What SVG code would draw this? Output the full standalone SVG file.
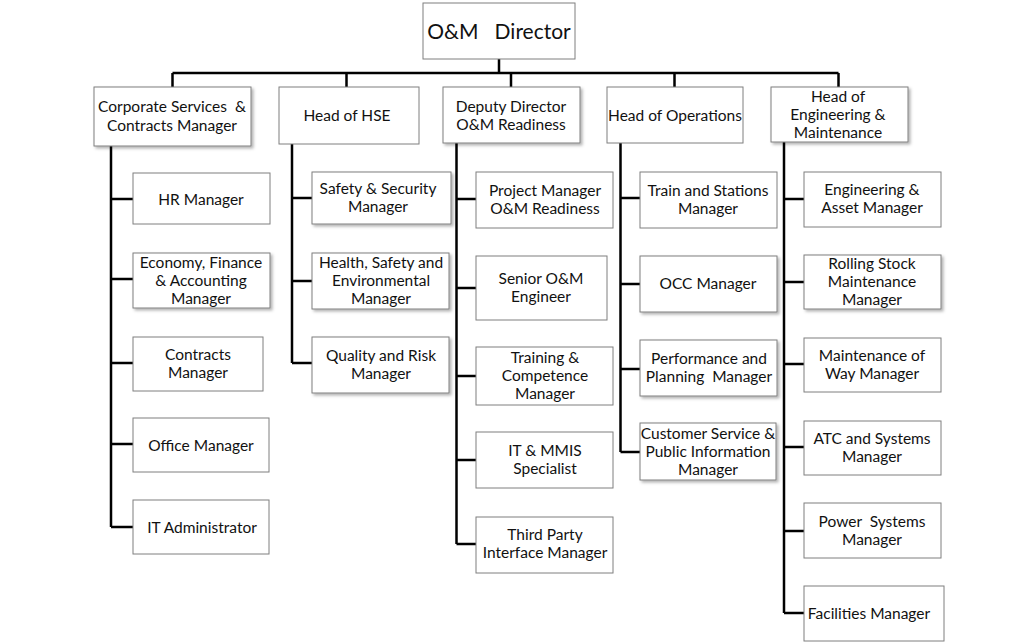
<svg xmlns="http://www.w3.org/2000/svg" width="1035" height="644" viewBox="0 0 1035 644">
<style>
.bx{fill:#fff;stroke:#7f7f7f;stroke-width:1}
.sh{filter:url(#ds)}
text{font-family:Lato,"Liberation Sans",sans-serif;font-size:15.5px;fill:#111;text-anchor:middle;dominant-baseline:central;white-space:pre}
.big{font-size:21px}
.cn{fill:none;stroke:#000;stroke-width:2.5}
</style>
<defs>
<filter id="ds" x="-10%" y="-10%" width="125%" height="130%">
<feDropShadow dx="2" dy="2" stdDeviation="1.5" flood-color="#000" flood-opacity="0.3"/>
</filter>
</defs>
<rect width="1035" height="644" fill="#fff"/>
<g id="connectors">
<path class="cn" d="M172.5,73 H838.5 M499,59 V73 M172.5,73 V87 M346.5,73 V87 M511,73 V87 M674.5,73 V87 M838.5,73 V87"/>
<path class="cn" d="M111,146 V527 M111,199 H133 M111,279 H133 M111,363 H133 M111,444 H133 M111,527 H133"/>
<path class="cn" d="M292,144 V363 M292,198 H312 M292,281 H312 M292,363 H312"/>
<path class="cn" d="M456.5,143 V544 M456.5,199 H476 M456.5,288 H476 M456.5,376 H476 M456.5,460 H476 M456.5,544 H476"/>
<path class="cn" d="M620.5,143 V452 M620.5,198 H640 M620.5,284 H640 M620.5,369 H640 M620.5,452 H640"/>
<path class="cn" d="M784,142 V613 M784,199 H804 M784,282 H804 M784,364 H804 M784,447 H804 M784,531 H804 M784,613 H804"/>
</g>
<g id="director"><rect class="bx" x="423" y="3" width="152" height="56"/><text class="big" x="499" y="30">O&amp;M   Director</text></g>
<g id="corporate"><rect class="bx sh" x="94" y="87" width="157" height="59"/><text x="172" y="106">Corporate Services  &amp;</text><text x="172" y="125">Contracts Manager</text></g>
<g id="hse"><rect class="bx" x="279" y="87" width="140" height="57"/><text x="347" y="115">Head of HSE</text></g>
<g id="deputy"><rect class="bx sh" x="443" y="87" width="137" height="56"/><text x="511" y="106">Deputy Director</text><text x="511" y="124">O&amp;M Readiness</text></g>
<g id="ops"><rect class="bx" x="607" y="87" width="136" height="56"/><text x="675" y="115">Head of Operations</text></g>
<g id="em"><rect class="bx sh" x="771" y="87" width="137" height="55"/><text x="838" y="96">Head of</text><text x="838" y="114">Engineering &amp;</text><text x="838" y="132">Maintenance</text></g>
<g id="hr"><rect class="bx" x="133" y="173" width="137" height="51"/><text x="201" y="199">HR Manager</text></g>
<g id="economy"><rect class="bx sh" x="133" y="253" width="137" height="55"/><text x="201" y="262">Economy, Finance</text><text x="201" y="280">&amp; Accounting</text><text x="201" y="298">Manager</text></g>
<g id="contracts"><rect class="bx" x="133" y="337" width="130" height="54"/><text x="198" y="354">Contracts</text><text x="198" y="372">Manager</text></g>
<g id="office"><rect class="bx" x="133" y="418" width="136" height="54"/><text x="201" y="445">Office Manager</text></g>
<g id="itadmin"><rect class="bx" x="133" y="500" width="136" height="54"/><text x="202" y="527">IT Administrator</text></g>
<g id="safety"><rect class="bx sh" x="312" y="172" width="139" height="52"/><text x="378" y="188">Safety &amp; Security</text><text x="378" y="206">Manager</text></g>
<g id="health"><rect class="bx sh" x="312" y="253" width="137" height="56"/><text x="381" y="262">Health, Safety and</text><text x="381" y="280">Environmental</text><text x="381" y="298">Manager</text></g>
<g id="quality"><rect class="bx sh" x="312" y="337" width="137" height="56"/><text x="381" y="355">Quality and Risk</text><text x="381" y="373">Manager</text></g>
<g id="project"><rect class="bx" x="476" y="172" width="137" height="56"/><text x="545" y="190">Project Manager</text><text x="545" y="208">O&amp;M Readiness</text></g>
<g id="senior"><rect class="bx" x="476" y="256" width="131" height="64"/><text x="541" y="278">Senior O&amp;M</text><text x="541" y="296">Engineer</text></g>
<g id="training"><rect class="bx" x="476" y="347" width="137" height="58"/><text x="545" y="357">Training &amp;</text><text x="545" y="375">Competence</text><text x="545" y="393">Manager</text></g>
<g id="itmmis"><rect class="bx" x="476" y="432" width="137" height="56"/><text x="545" y="450">IT &amp; MMIS</text><text x="545" y="468">Specialist</text></g>
<g id="thirdparty"><rect class="bx" x="476" y="517" width="137" height="56"/><text x="545" y="534">Third Party</text><text x="545" y="552">Interface Manager</text></g>
<g id="train"><rect class="bx" x="640" y="172" width="137" height="56"/><text x="708" y="190">Train and Stations</text><text x="708" y="208">Manager</text></g>
<g id="occ"><rect class="bx sh" x="640" y="256" width="137" height="56"/><text x="708" y="283">OCC Manager</text></g>
<g id="performance"><rect class="bx sh" x="640" y="340" width="137" height="56"/><text x="709" y="358">Performance and</text><text x="709" y="376">Planning  Manager</text></g>
<g id="customer"><rect class="bx sh" x="640" y="423" width="136" height="57"/><text x="708" y="433">Customer Service &amp;</text><text x="708" y="451">Public Information</text><text x="708" y="469">Manager</text></g>
<g id="engasset"><rect class="bx" x="804" y="172" width="137" height="55"/><text x="872" y="189">Engineering &amp;</text><text x="872" y="207">Asset Manager</text></g>
<g id="rolling"><rect class="bx sh" x="804" y="255" width="137" height="54"/><text x="872" y="263">Rolling Stock</text><text x="872" y="281">Maintenance</text><text x="872" y="299">Manager</text></g>
<g id="maintway"><rect class="bx" x="804" y="338" width="137" height="54"/><text x="872" y="355">Maintenance of</text><text x="872" y="373">Way Manager</text></g>
<g id="atc"><rect class="bx" x="804" y="421" width="137" height="54"/><text x="872" y="438">ATC and Systems</text><text x="872" y="456">Manager</text></g>
<g id="power"><rect class="bx" x="804" y="503" width="137" height="55"/><text x="872" y="521">Power  Systems</text><text x="872" y="539">Manager</text></g>
<g id="facilities"><rect class="bx" x="804" y="586" width="140" height="55"/><text x="869" y="613">Facilities Manager</text></g>
</svg>
